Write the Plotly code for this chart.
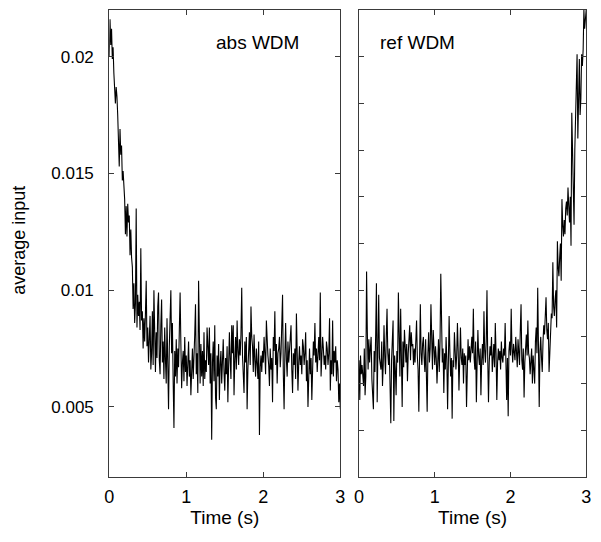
import plotly.graph_objects as go

# time axis: 0 .. 3 s in 0.01 s steps
time_s = [round(i * 0.01, 2) for i in range(301)]

# average input, in units of 1e-3
abs_wdm_milli = [
    20.0, 21.6, 20.5, 21.2, 19.9, 20.4, 19.3, 18.6, 18.0, 18.7,
    18.3, 17.5, 16.4, 15.3, 16.9, 15.8, 16.2, 14.7, 15.1, 14.4,
    13.9, 12.4, 13.6, 12.3, 13.7, 12.9, 13.2, 11.5, 12.6, 11.4,
    11.0, 9.2, 10.3, 8.6, 9.4, 13.5, 8.4, 9.8, 8.9, 9.5,
    8.3, 11.8, 8.7, 9.1, 7.5, 8.8, 7.8, 9.0, 10.4, 7.6,
    8.4, 6.9, 7.8, 8.9, 6.6, 7.3, 9.1, 6.8, 10.0, 7.5,
    6.5, 8.2, 7.1, 9.3, 9.9, 7.0, 6.4, 8.5, 9.6, 6.9,
    7.8, 6.2, 8.4, 7.0, 6.0, 8.8, 5.7, 4.9, 7.6, 9.2,
    10.0, 7.3, 8.6, 6.1, 4.1, 7.4, 6.3, 7.9, 6.0, 7.5,
    6.7, 8.3, 9.9, 7.7, 5.8, 6.9, 7.4, 6.1, 8.0, 6.5,
    7.2, 5.9, 6.6, 7.8, 6.3, 7.0, 5.5, 6.8, 7.5, 6.2,
    7.0, 8.1, 9.4, 6.4, 7.3, 5.6, 10.4, 7.1, 6.0, 7.7,
    6.3, 7.4, 5.9, 8.2, 6.2, 7.0, 6.5, 8.4, 7.1, 6.8,
    8.4, 6.0, 7.3, 3.6, 6.9, 7.8, 6.1, 8.5, 5.4, 4.9,
    7.2, 6.3, 7.7, 5.3, 6.8, 7.4, 6.0, 7.0, 7.9, 6.5,
    5.7, 7.1, 6.4, 7.6, 5.2, 6.8, 8.2, 7.0, 6.2, 8.5,
    7.3, 8.5, 5.5, 7.0, 8.0, 6.6, 8.7, 7.4, 6.8, 7.9,
    7.2, 8.1, 10.1, 7.2, 6.4, 5.6, 7.8, 6.9, 8.0, 4.9,
    6.6, 7.5, 8.2, 6.8, 9.3, 8.0, 7.6, 6.5, 8.1, 7.0,
    6.3, 7.5, 7.0, 6.2, 7.8, 3.8, 6.7, 7.2, 6.5, 7.4,
    6.9, 8.0, 7.3, 6.4, 8.7, 7.6, 7.2, 6.8, 5.9, 7.5,
    6.6, 7.1, 5.2, 8.0, 7.4, 9.1, 6.8, 7.7, 6.0, 7.3,
    7.5, 8.0, 6.7, 7.3, 8.4, 9.8, 6.4, 4.9, 7.2, 8.6,
    7.0, 6.3, 7.8, 6.9, 7.4, 8.1, 8.5, 6.6, 5.6, 7.3,
    6.8, 7.5, 6.2, 9.0, 7.1, 5.7, 6.9, 7.6, 6.8, 7.2,
    6.4, 7.9, 7.6, 6.8, 7.3, 8.2, 6.1, 7.0, 5.0, 6.6,
    7.5, 6.4, 7.1, 5.3, 6.7, 7.8, 7.2, 8.6, 6.9, 7.5,
    6.5, 7.3, 8.0, 7.0, 9.9, 6.3, 7.4, 8.0, 7.5, 6.8,
    7.2, 6.6, 7.8, 7.5, 6.8, 7.3, 8.8, 5.7, 7.0, 6.4,
    8.7, 6.3, 7.4, 6.9, 7.6, 6.1, 7.0, 6.6, 5.2, 6.0,
    4.9,
]

ref_wdm_milli = [
    7.0, 5.3, 7.2, 6.4, 6.8, 6.1, 5.9, 7.5, 5.5, 6.3,
    10.8, 8.2, 6.6, 7.9, 6.9, 7.5, 8.0, 6.2, 5.6, 4.9,
    7.4, 6.5, 8.1, 10.3, 5.2, 7.6, 9.8, 7.1, 6.7, 6.6,
    7.8, 5.9, 6.8, 8.5, 7.2, 6.4, 8.0, 9.2, 7.3, 6.8,
    7.5, 6.1, 4.3, 7.0, 7.8, 8.7, 4.4, 7.2, 6.6, 5.5,
    7.4, 6.9, 9.9, 7.1, 6.3, 9.2, 7.6, 5.0, 7.8, 6.7,
    8.3, 7.4, 6.9, 7.7, 6.1, 7.3, 7.9, 8.5, 7.0, 8.2,
    7.6, 7.7, 6.8, 7.5, 6.9, 8.1, 8.7, 7.2, 6.6, 4.8,
    7.8, 9.4, 7.3, 6.8, 7.7, 8.0, 7.1, 6.5, 7.9, 6.7,
    4.8, 7.3, 8.2, 6.9, 7.5, 9.4, 7.0, 6.6, 8.3, 7.2,
    6.8, 7.6, 7.1, 6.0, 7.4, 7.9, 6.5, 7.8, 10.7, 7.2,
    6.9, 7.5, 5.6, 7.3, 6.6, 8.0, 7.0, 4.9, 6.8, 8.9,
    7.4, 6.3, 7.1, 4.5, 7.0, 6.7, 8.2, 7.5, 6.6, 7.2,
    8.6, 7.4, 5.7, 7.0, 8.4, 7.1, 6.8, 7.5, 6.0, 7.3,
    6.8, 7.2, 5.0, 6.5, 7.9, 7.0, 7.6, 6.9, 7.4, 8.0,
    7.3, 9.2, 7.1, 6.6, 7.8, 5.2, 6.9, 8.3, 7.2, 6.8,
    7.5, 5.5, 7.0, 7.7, 6.8, 9.1, 7.4, 6.9, 7.8, 10.0,
    7.1, 5.2, 6.9, 7.6, 7.2, 8.0, 6.5, 7.3, 7.7, 6.7,
    8.6, 7.3, 5.3, 6.9, 7.5, 7.0, 7.4, 6.6, 7.8, 7.1,
    6.9, 7.5, 7.2, 8.6, 6.8, 5.3, 7.1, 4.6, 7.4, 7.8,
    7.2, 9.2, 7.5, 6.9, 7.7, 7.3, 7.0, 8.0, 7.4, 6.7,
    7.9, 7.2, 6.8, 8.3, 9.4, 7.0, 6.6, 7.5, 5.4, 6.9,
    7.6, 8.1, 7.2, 8.7, 7.3, 7.1, 6.4, 7.0, 7.5, 6.0,
    7.2, 6.6, 6.0, 7.8, 8.4, 7.3, 10.1, 7.6, 5.0, 7.4,
    8.0, 7.1, 6.5, 7.8, 8.5, 8.1, 9.0, 9.7, 8.3, 7.9,
    8.6, 6.5, 7.3, 8.4, 9.0, 8.8, 11.2, 9.3, 8.9, 9.6,
    10.0, 8.4, 12.1, 11.0, 10.6, 11.4, 12.0, 10.4, 13.9, 12.8,
    12.3, 13.0, 12.4, 13.5, 13.8, 13.2, 14.4, 13.6, 12.9, 14.0,
    11.9, 17.6, 15.3, 13.8, 12.8, 16.0, 17.1, 18.4, 20.1, 16.5,
    18.7, 19.9, 17.5, 18.2, 20.1, 19.6, 20.3, 22.0, 21.2, 21.7,
    22.0,
]

x_ticks = [0, 1, 2, 3]
left_y_ticks = [0.005, 0.01, 0.015, 0.02]
left_y_labels = ["0.005", "0.01", "0.015", "0.02"]
right_y_ticks = [0.004, 0.006, 0.008, 0.010, 0.012, 0.014, 0.016, 0.018, 0.020]
panel_titles = ["abs WDM", "ref WDM"]

abs_wdm = [v * 1e-3 for v in abs_wdm_milli]
ref_wdm = [v * 1e-3 for v in ref_wdm_milli]

W, H = 601, 542
FONT = "Liberation Sans, Arial, sans-serif"
FRAME = "#3a3a3a"

fig = go.Figure()
fig.add_trace(go.Scatter(x=time_s, y=abs_wdm, mode="lines",
                         line=dict(color="black", width=1.1), xaxis="x", yaxis="y",
                         showlegend=False, hoverinfo="skip"))
fig.add_trace(go.Scatter(x=time_s, y=ref_wdm, mode="lines",
                         line=dict(color="black", width=1.1), xaxis="x2", yaxis="y2",
                         showlegend=False, hoverinfo="skip"))

y_top = 1 - 10 / H
y_bot = 1 - 477 / H

common_x = dict(range=[0, 3], tickvals=x_ticks, ticktext=[str(t) for t in x_ticks],
                ticks="inside", ticklen=5, tickcolor=FRAME, showline=True,
                linecolor=FRAME, linewidth=1, mirror="ticks", showgrid=False,
                zeroline=False, tickfont=dict(size=18, color="black"),
                ticklabelstandoff=3,
                title=dict(text="Time (s)", font=dict(size=19, color="black"), standoff=5))
common_y = dict(range=[0.002, 0.022], ticks="inside", ticklen=5, tickcolor=FRAME,
                showline=True, linecolor=FRAME, linewidth=1, mirror="ticks",
                showgrid=False, zeroline=False, tickfont=dict(size=17, color="black"))

fig.update_layout(
    width=W, height=H,
    margin=dict(l=0, r=0, t=0, b=0),
    paper_bgcolor="white", plot_bgcolor="white",
    font=dict(family=FONT, size=17, color="black"),
    xaxis=dict(domain=[106 / W, 341 / W], anchor="y", **common_x),
    xaxis2=dict(domain=[360 / W, 591 / W], anchor="y2", **common_x),
    yaxis=dict(domain=[y_bot, y_top], anchor="x", tickvals=left_y_ticks,
               ticktext=left_y_labels, ticklabelstandoff=11, **common_y),
    yaxis2=dict(domain=[y_bot, y_top], anchor="x2", tickvals=right_y_ticks,
                showticklabels=False, **common_y),
    annotations=[
        dict(text=panel_titles[0], xref="paper", yref="paper", x=257 / W, y=1 - 42 / H,
             showarrow=False, font=dict(size=19, color="black"), xanchor="center", yanchor="middle"),
        dict(text=panel_titles[1], xref="paper", yref="paper", x=419 / W, y=1 - 42 / H,
             showarrow=False, font=dict(size=19, color="black"), xanchor="center", yanchor="middle"),
        dict(text="average input", xref="paper", yref="paper", x=14 / W, y=1 - 240 / H,
             showarrow=False, textangle=-90, font=dict(size=18, color="black"),
             xanchor="center", yanchor="middle"),
    ],
)

fig.write_html("out.html", config={"displayModeBar": False},
               post_script="document.body.style.margin='0';")
